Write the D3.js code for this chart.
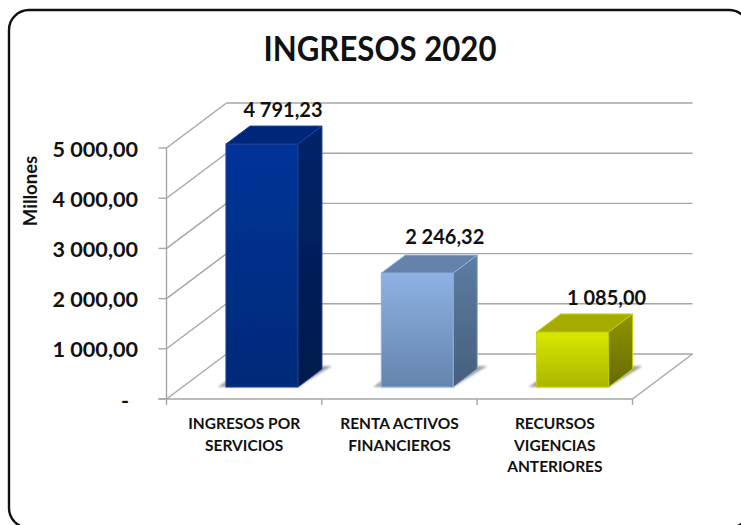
<!DOCTYPE html>
<html><head><meta charset="utf-8">
<script src="https://cdn.jsdelivr.net/npm/d3@7"></script>
<style>html,body{margin:0;padding:0;background:#fff}svg{display:block}text{font-family:Lato,"Open Sans",sans-serif;font-weight:700;fill:#111}</style>
</head><body><script>
const categories=[["INGRESOS POR","SERVICIOS"],["RENTA ACTIVOS","FINANCIEROS"],["RECURSOS","VIGENCIAS","ANTERIORES"]];
const values=[4791.23,2246.32,1085];
const valueLabels=["4 791,23","2 246,32","1 085,00"];
const tickValues=[0,1000,2000,3000,4000,5000];
const tickLabels=["-","1 000,00","2 000,00","3 000,00","4 000,00","5 000,00"];
const palettes=[
 {f0:"#003399",f1:"#002a78",top:"#00277a",s0:"#002469",s1:"#001a4d",edge:"#1c3f94"},
 {f0:"#8db2e3",f1:"#6484ac",top:"#6583aa",s0:"#5d7ca2",s1:"#465f7e",edge:"#8fb0dc"},
 {f0:"#d9e800",f1:"#aab600",top:"#a6ab00",s0:"#8f9400",s1:"#666a00",edge:"#c4d000"}];
const W=741,H=525;
const svg=d3.select("body").append("svg").attr("width",W).attr("height",H);
const defs=svg.append("defs");
const grad=(id,a,b,x2,y2)=>{const g=defs.append("linearGradient").attr("id",id).attr("x1",0).attr("y1",0).attr("x2",x2).attr("y2",y2);
 g.append("stop").attr("offset",0).attr("stop-color",a);g.append("stop").attr("offset",1).attr("stop-color",b);};
palettes.forEach((p,i)=>{grad("f"+i,p.f0,p.f1,0,1);grad("s"+i,p.s0,p.s1,0,1);});
defs.append("filter").attr("id","blur").append("feGaussianBlur").attr("stdDeviation",1.2);
defs.append("filter").attr("id","soft").append("feGaussianBlur").attr("stdDeviation",0.35);

svg.append("rect").attr("x",9).attr("y",10).attr("width",740).attr("height",518).attr("rx",20)
 .attr("fill","#fff").attr("stroke","#111").attr("stroke-width",2.4);

svg.append("text").attr("x",380).attr("y",61).attr("text-anchor","middle").attr("font-size",33.5).attr("textLength",233).attr("lengthAdjust","spacingAndGlyphs").text("INGRESOS 2020");

const y=d3.scaleLinear().domain([0,5000]).range([399,148]);
const barY=d3.scaleLinear().domain([0,5000]).range([387,133.5]);
const x=d3.scaleBand().domain(d3.range(3)).range([166.5,632.5]);
const backDx=60,backDy=-45,barW=72,depthDx=24,depthDy=-18;
const grey="#a6a6a6";
const chart=svg.append("g").attr("fill","none");
const seg=(x1,y1,x2,y2)=>chart.append("line").attr("x1",x1).attr("y1",y1).attr("x2",x2).attr("y2",y2).attr("stroke",grey).attr("stroke-width",1.4);
const [xa,xb]=x.range();

tickValues.forEach(t=>{
 seg(xa+backDx,y(t)+backDy,xb+backDx,y(t)+backDy);
 seg(xa,y(t),xa+backDx,y(t)+backDy);
 seg(xa-8,y(t),xa,y(t));
});
seg(xb,y(0),xb+backDx,y(0)+backDy);
seg(xa,y(5000),xa,y(0)+6);
seg(xa-8,y(0),xb,y(0));
[1,2,3].forEach(i=>{const px=xa+i*x.bandwidth();seg(px,y(0),px,y(0)+6);});

tickValues.forEach((t,i)=>svg.append("text").attr("x",i==0?129:138).attr("y",y(t)+8.5).attr("text-anchor","end")
 .attr("font-size",21.6).text(tickLabels[i]));
svg.append("text").attr("transform","translate(37,191) rotate(-90)").attr("text-anchor","middle").attr("font-size",18.5).text("Millones");

const labelShift=[-15,-8.6,-2], labelLift=[9,11,9];
values.forEach((v,i)=>{
 const p=palettes[i];
 const x0=x(i)+(x.bandwidth()-barW)/2+17.8, x1=x0+barW, y0=barY(v), yb=barY(0);
 const g=svg.append("g");
 g.append("path").attr("d",d3.line()([[x0-8,yb],[x0,yb-6],[x1+depthDx,yb+depthDy-3],[x1+depthDx+10,yb+depthDy-3],[x1,yb]])+"Z").attr("fill","#8c8c8c").attr("opacity",.8).attr("filter","url(#blur)");
 const b=g.append("g").attr("filter","url(#soft)");
 b.append("rect").attr("x",x0).attr("y",y0).attr("width",barW).attr("height",yb-y0).attr("fill",`url(#f${i})`).attr("stroke",p.edge).attr("stroke-width",1);
 b.append("path").attr("d",d3.line()([[x0,y0],[x0+depthDx,y0+depthDy],[x1+depthDx,y0+depthDy],[x1,y0]])+"Z").attr("fill",p.top).attr("stroke",p.edge).attr("stroke-width",1);
 b.append("path").attr("d",d3.line()([[x1,y0],[x1+depthDx,y0+depthDy],[x1+depthDx,yb+depthDy],[x1,yb]])+"Z").attr("fill",`url(#s${i})`).attr("stroke",p.edge).attr("stroke-width",1);
 svg.append("text").attr("x",x1+labelShift[i]).attr("y",y0+depthDy-labelLift[i]).attr("text-anchor","middle").attr("font-size",20).text(valueLabels[i]);
});

categories.forEach((lines,i)=>{
 const cx=x(i)+x.bandwidth()/2;
 lines.forEach((l,k)=>svg.append("text").attr("x",cx).attr("y",429+k*21.7).attr("text-anchor","middle").attr("font-size",15.5).text(l));
});
</script></body></html>
